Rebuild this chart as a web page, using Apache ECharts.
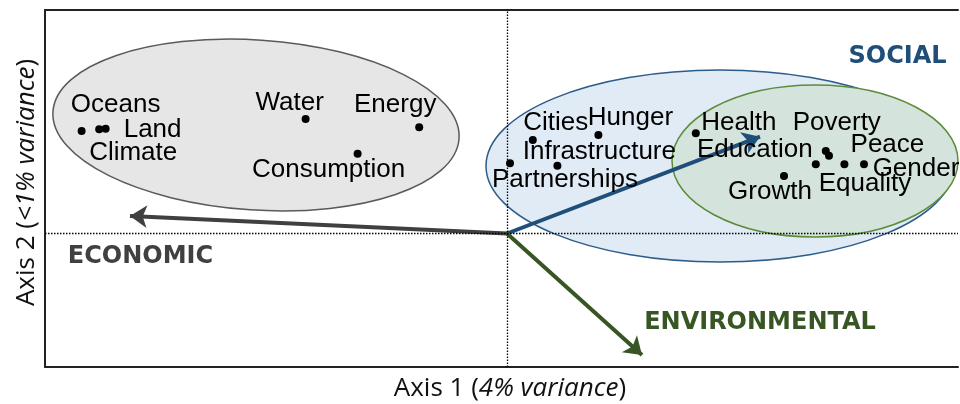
<!DOCTYPE html>
<html>
<head>
<meta charset="utf-8">
<script src="https://cdn.jsdelivr.net/npm/echarts@6/dist/echarts.min.js"></script>
<style>
  html, body { margin: 0; padding: 0; background: #fff; }
  #chart { width: 960px; height: 404px; }
</style>
</head>
<body>
<div id="chart"></div>
<script>
// == Data ====================================================================

// goals and their scores on the two ordination axes
const goals = ['Oceans', 'Climate', 'Land', 'Water', 'Energy', 'Consumption',
  'Partnerships', 'Cities', 'Hunger', 'Infrastructure',
  'Health', 'Poverty', 'Equality', 'Education', 'Peace', 'Gender', 'Growth']
const axis1 = [-2.127, -2.039, -2.007, -1.007, -0.439, -0.747,
  0.015, 0.129, 0.457, 0.252,
  0.944, 1.594, 1.610, 1.544, 1.687, 1.785, 1.385]
const axis2 = [0.513, 0.521, 0.524, 0.573, 0.531, 0.399,
  0.351, 0.468, 0.493, 0.339,
  0.501, 0.413, 0.389, 0.346, 0.346, 0.346, 0.288]

// dimension vectors (arrow tips) and where their names sit
const dimensions = ['ECONOMIC', 'SOCIAL', 'ENVIRONMENTAL']
const loading1 = [-1.885, 1.265, 0.675]
const loading2 = [0.088, 0.484, -0.608]
const dimLabel1 = [-1.833, 1.953, 1.265]
const dimLabel2 = [-0.118, 0.883, -0.448]

// cluster ellipses: centre, half widths, tilt in degrees
const clusters = ['economic', 'social', 'social core']
const clusterX = [-1.255, 1.065, 1.54]
const clusterY = [0.5425, 0.3375, 0.3625]
const clusterRx = [1.0175, 1.17, 0.715]
const clusterRy = [0.425, 0.48, 0.38]
const clusterTilt = [-3.8, 0, 0]

// == Styles ==================================================================

const dimColors = ['#404040', '#1f4e79', '#375623']
const clusterFill = ['#e7e6e6', '#e0ebf6', '#d4e3dc']
const clusterStroke = ['#5a5a5a', '#2e5c8a', '#5b8c3a']

// label offset from its dot, px
const labelShift = {
  Oceans: [34, -26], Climate: [34, 24], Land: [47, 1], Water: [-16, -16],
  Energy: [-24, -22], Consumption: [-29, 16], Partnerships: [55, 17],
  Cities: [23, -17], Hunger: [32, -17], Infrastructure: [42, -14],
  Health: [43, -10], Poverty: [11, -28], Equality: [36, 28],
  Education: [-61, -14], Peace: [43, -19], Gender: [52, 5], Growth: [-14, 16]
}

const axisFont = {fontFamily: 'Open Sans', fontSize: 26, color: '#111'}
const axisItalic = Object.assign({fontStyle: 'italic'}, axisFont)
const hidden = {show: false}

function frameAxis (extra) {
  return Object.assign({
    type: 'value',
    axisLine: {show: true, onZero: false, lineStyle: {color: '#222', width: 2}},
    axisTick: hidden,
    axisLabel: hidden,
    splitLine: hidden
  }, extra)
}

const option = {
  animation: false,
  grid: {left: 45, right: 2, top: 10, bottom: 37, outerBoundsMode: 'none'},
  xAxis: [
    frameAxis({
      min: -2.31, max: 2.255, position: 'bottom',
      name: '{a|Axis 1 (}{b|4% variance}{a|)}',
      nameLocation: 'middle', nameGap: 9,
      nameTextStyle: {padding: [0, 0, 0, 17], rich: {a: axisFont, b: axisItalic}}
    }),
    frameAxis({min: -2.31, max: 2.255, position: 'top'})
  ],
  yAxis: frameAxis({
    min: -0.6675, max: 1.1175,
    name: '{a|Axis 2 (}{b|<1% variance}{a|)}',
    nameLocation: 'middle', nameGap: 5,
    nameTextStyle: {padding: [0, 0, 0, 12], rich: {a: axisFont, b: axisItalic}}
  }),
  series: [
    {
      type: 'custom',
      z: 1,
      silent: true,
      data: clusters.map((c, i) => [clusterX[i], clusterY[i], clusterRx[i], clusterRy[i], clusterTilt[i], i]),
      renderItem (params, api) {
        const c = api.coord([api.value(0), api.value(1)])
        const s = api.size([api.value(2), api.value(3)])
        const i = api.value(5)
        return {
          type: 'ellipse',
          x: c[0],
          y: c[1],
          rotation: api.value(4) * Math.PI / 180,
          shape: {cx: 0, cy: 0, rx: s[0], ry: s[1]},
          style: {fill: clusterFill[i], stroke: clusterStroke[i], lineWidth: 1.5}
        }
      }
    },
    {
      // dotted cross through the origin
      type: 'scatter',
      z: 2,
      data: [],
      markLine: {
        silent: true,
        symbol: 'none',
        label: hidden,
        lineStyle: {type: [1.5, 1.5], color: '#000', width: 1.3},
        data: [{xAxis: 0}, {yAxis: 0}]
      }
    },
    {
      type: 'lines',
      coordinateSystem: 'cartesian2d',
      z: 3,
      silent: true,
      symbol: ['none', 'arrow'],
      symbolSize: 17,
      data: dimensions.map((d, i) => ({
        coords: [[0, 0], [loading1[i], loading2[i]]],
        lineStyle: {color: dimColors[i], width: 4, opacity: 1}
      }))
    },
    {
      type: 'scatter',
      z: 4,
      symbolSize: 0,
      silent: true,
      itemStyle: {opacity: 1},
      data: dimensions.map((d, i) => ({
        name: d,
        value: [dimLabel1[i], dimLabel2[i]],
        label: {color: dimColors[i]}
      })),
      label: {
        show: true,
        position: 'inside',
        formatter: '{b}',
        fontFamily: 'DejaVu Sans',
        fontWeight: 'bold',
        fontSize: 24,
        opacity: 1
      }
    },
    {
      type: 'scatter',
      z: 5,
      symbolSize: 8,
      itemStyle: {color: '#000', opacity: 1},
      data: goals.map((g, i) => ({
        name: g,
        value: [axis1[i], axis2[i]],
        label: {offset: labelShift[g]}
      })),
      label: {
        show: true,
        position: 'inside',
        align: 'center',
        verticalAlign: 'middle',
        formatter: '{b}',
        fontFamily: 'Liberation Sans',
        fontSize: 26,
        color: '#000',
        opacity: 1
      }
    }
  ]
}

echarts.init(document.getElementById('chart')).setOption(option)
</script>
</body>
</html>
